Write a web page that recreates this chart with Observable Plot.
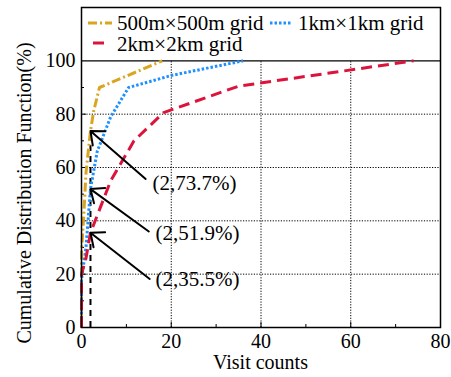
<!DOCTYPE html>
<html>
<head>
<meta charset="utf-8">
<script src="https://cdn.jsdelivr.net/npm/d3@7"></script>
<script src="https://cdn.jsdelivr.net/npm/@observablehq/plot@0.6"></script>
<style>
  html, body { margin: 0; padding: 0; background: #fff; }
  #chart { position: relative; width: 451px; height: 377px; }
</style>
</head>
<body>
<div id="chart"></div>
<script>
// ---- data ----
const series = ["500m×500m grid", "1km×1km grid", "2km×2km grid"];
const colors = ["#DAA520", "#1E90FF", "#DC143C"];
const dashes = ["9,3,2,3", "2.5,2", "11,6"];

const x500 = [0, 0, 0.5, 1, 2, 2.7, 4, 18];
const y500 = [0, 28, 42, 58, 73.7, 81, 90, 100];
const x1k = [0, 0, 1, 2, 3.5, 6.5, 10.5, 20, 36];
const y1k = [0, 18, 30, 51.9, 66, 79, 90, 94.5, 100];
const x2k = [0, 0, 1, 2, 6.5, 11.7, 18.3, 35, 74];
const y2k = [0, 20, 26, 35.5, 55, 70, 80.6, 90.5, 100];

const annX = [2, 2, 2];
const annY = [73.7, 51.9, 35.5];
const annText = ["(2,73.7%)", "(2,51.9%)", "(2,35.5%)"];
const tailX = [14.3, 15, 15.2];
const tailY = [55.7, 36, 18.2];
const labelX = [15.8, 16.5, 16.5];
const labelY = [54, 35.2, 18];

const xTicks = [0, 20, 40, 60, 80];
const xMinor = [10, 30, 50, 70];
const yTicks = [0, 20, 40, 60, 80, 100];
const yMinor = [10, 30, 50, 70, 90];
const xGrid = [20, 40, 60];
const yGrid = [20, 40, 60, 80];

const xTitle = "Visit counts";
const yTitle = "Cumulative Distribution Function(%)";

// ---- build ----
const toRows = (xs, ys, s) => xs.map((x, i) => ({x, y: ys[i], s}));
const curves = [toRows(x500, y500, 0), toRows(x1k, y1k, 1), toRows(x2k, y2k, 2)];
const ann = annX.map((x, i) => ({x, y: annY[i], tx: tailX[i], ty: tailY[i], lx: labelX[i], ly: labelY[i], t: annText[i]}));

const W = 451, H = 377;
const mL = 81, mR = 11, mT = 7, mB = 50;
const font = "'Liberation Serif', 'Times New Roman', serif";

const plot = Plot.plot({
  width: W, height: H,
  marginLeft: mL, marginRight: mR, marginTop: mT, marginBottom: mB,
  style: {fontFamily: font, fontSize: "20px", background: "#fff", color: "#000"},
  x: {domain: [0, 80], ticks: xTicks, tickSize: 0, tickPadding: 6, label: null},
  y: {domain: [0, 120], ticks: yTicks, tickSize: 0, tickPadding: 6, label: null},
  marks: [
    Plot.ruleX(xGrid, {y1: 0, y2: 100, stroke: "#000", strokeDasharray: "1.2,1.5", strokeWidth: 1}),
    Plot.ruleY(yGrid, {stroke: "#000", strokeDasharray: "1.2,1.5", strokeWidth: 1}),
    Plot.ruleY([100], {stroke: "#000", strokeWidth: 1.3}),
    Plot.tickX(xTicks, {x: d => d, insetTop: H - mT - mB - 5, stroke: "#000"}),
    Plot.tickX(xMinor, {x: d => d, insetTop: H - mT - mB - 3, stroke: "#000"}),
    Plot.tickY(yTicks.filter(d => d < 100), {y: d => d, insetRight: W - mL - mR - 5, stroke: "#000"}),
    Plot.tickY(yMinor, {y: d => d, insetRight: W - mL - mR - 3, stroke: "#000"}),
    Plot.ruleX(ann.slice(0, 1), {x: "x", y1: 0, y2: "y", stroke: "#000", strokeWidth: 2, strokeDasharray: "6,5"}),
    ...curves.map((rows, i) => Plot.line(rows, {x: "x", y: "y", stroke: colors[i], strokeWidth: 3, strokeDasharray: dashes[i], strokeLinecap: "butt", strokeLinejoin: "miter"})),
    Plot.arrow(ann, {x1: "tx", y1: "ty", x2: "x", y2: "y", stroke: "#000", strokeWidth: 2, headAngle: 80, headLength: 11, insetEnd: 0}),
    Plot.text(ann, {x: "lx", y: "ly", text: "t", textAnchor: "start", fontSize: 21, fill: "#000"}),
    Plot.frame({stroke: "#000", strokeWidth: 1.5})
  ]
});

const svg = d3.select(plot);
// axis titles
svg.append("text").attr("x", (mL + W - mR) / 2).attr("y", 369).attr("text-anchor", "middle")
  .attr("font-family", font).attr("font-size", 20).attr("fill", "#000").text(xTitle);
svg.append("text").attr("transform", "translate(31,193) rotate(-90)").attr("text-anchor", "middle")
  .attr("font-family", font).attr("font-size", 20).attr("fill", "#000").text(yTitle);

// legend inside the top band
const lg = svg.append("g").attr("font-family", font).attr("font-size", 21).attr("fill", "#000").attr("text-anchor", "start");
const legendItems = [
  {x1: 88, x2: 112, y: 23, tx: 117, ty: 30},
  {x1: 270, x2: 291, y: 23, tx: 298, ty: 30},
  {x1: 93, x2: 104, y: 43, tx: 117, ty: 51}
];
legendItems.forEach((p, i) => {
  lg.append("line").attr("x1", p.x1).attr("x2", p.x2).attr("y1", p.y).attr("y2", p.y)
    .attr("stroke", colors[i]).attr("stroke-width", 3).attr("stroke-dasharray", dashes[i]);
  lg.append("text").attr("x", p.tx).attr("y", p.ty).attr("text-anchor", "start").text(series[i]);
});

document.getElementById("chart").appendChild(plot);
</script>
</body>
</html>
